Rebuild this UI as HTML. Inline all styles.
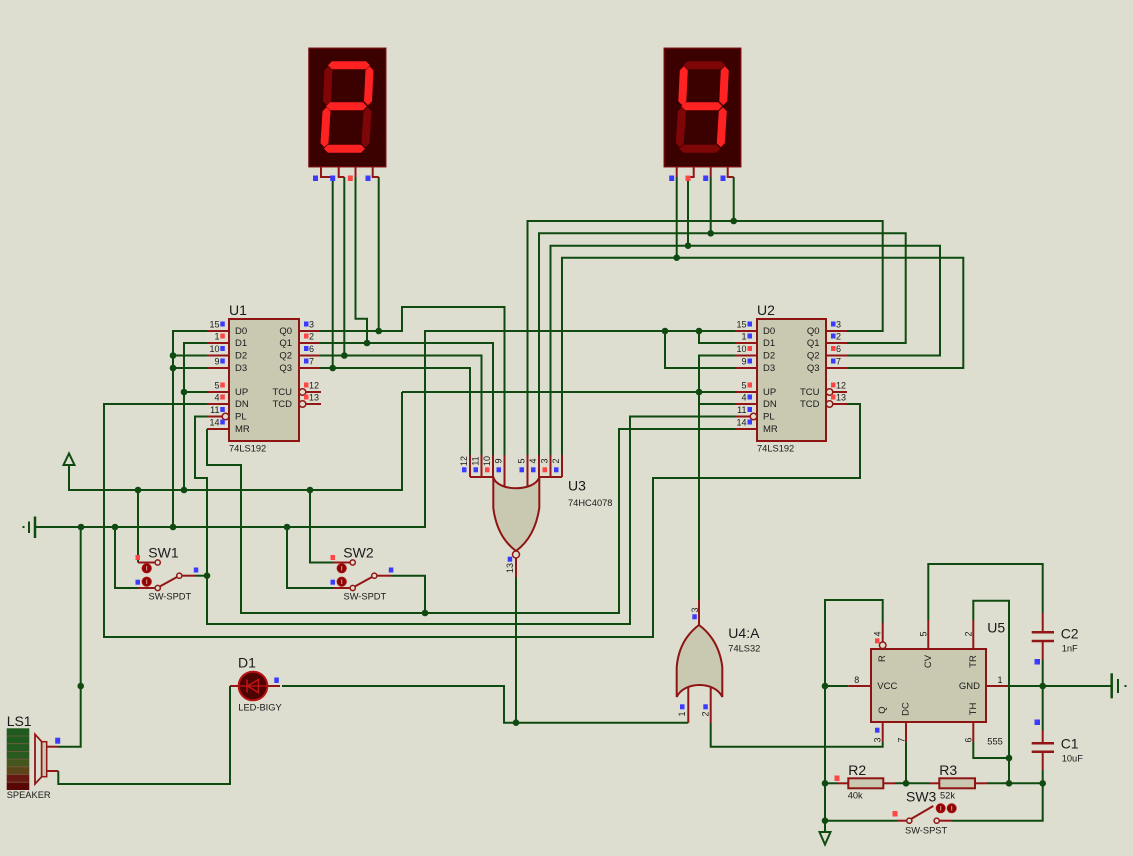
<!DOCTYPE html>
<html><head><meta charset="utf-8"><style>
html,body{margin:0;padding:0;background:#dddecf;}
svg{display:block;}
text{font-family:"Liberation Sans",Arial,sans-serif;fill:#1a1a1a;}
.w{fill:none;stroke:#0f4a10;stroke-width:2;}
.p{fill:none;stroke:#921616;stroke-width:2;}
.b{fill:#c9c8b1;stroke:#8e1414;stroke-width:2;}
.d{fill:#0f4a10;}
.bl{fill:#3b3bff;}
.rd{fill:#ff4545;}
.ref{font-size:14px;}
.typ{font-size:9.3px;}
.pn{font-size:9px;}
.nm{font-size:9.5px;}
.lit{fill:#ff2222;}
.off{fill:#7e0606;}
.oc{fill:#dddecf;stroke:#921616;stroke-width:1.5;}
.fc{fill:#8c0505;stroke:#b01010;stroke-width:1;}
</style></head><body>
<svg width="1133" height="856" viewBox="0 0 1133 856" xmlns="http://www.w3.org/2000/svg">
<rect width="1133" height="856" fill="#dddecf"/>

<!-- ===== WIRES ===== -->
<g>
<polyline class="w" points="332.7,177 332.7,368"/>
<polyline class="w" points="344.3,177 344.3,355.5"/>
<polyline class="w" points="355.5,177 355.5,318.7 367,318.7 367,343"/>
<polyline class="w" points="378.7,177 378.7,331"/>
<polyline class="w" points="676.7,177 676.7,257.7"/>
<polyline class="w" points="688,177 688,245.7"/>
<polyline class="w" points="710.7,177 710.7,233.3"/>
<polyline class="w" points="733.7,177 733.7,221"/>

<polyline class="w" points="527.5,455 527.5,221 882.7,221 882.7,331 847,331"/>
<polyline class="w" points="539,455 539,233.3 905.7,233.3 905.7,343 847,343"/>
<polyline class="w" points="550.5,455 550.5,245.7 940,245.7 940,355.5 847,355.5"/>
<polyline class="w" points="562,455 562,257.7 963.3,257.7 963.3,368 847,368"/>

<polyline class="w" points="320,331 402,331 402,307 504.5,307 504.5,455"/>
<polyline class="w" points="320,343 493,343 493,455"/>
<polyline class="w" points="320,355.5 481.5,355.5 481.5,455"/>
<polyline class="w" points="320,368 470,368 470,455"/>

<polyline class="w" points="35,527 425,527 425,331 735,331"/>
<polyline class="w" points="665,331 665,368 735,368"/>
<polyline class="w" points="699,331 699,343 735,343"/>
<polyline class="w" points="735,355.5 699,355.5 699,600"/>
<polyline class="w" points="699,404 735,404"/>
<polyline class="w" points="402,392 735,392"/>
<polyline class="w" points="69,465 69,490 402,490 402,392"/>

<polyline class="w" points="207,331 173,331 173,527"/>
<polyline class="w" points="173,355.5 207,355.5"/>
<polyline class="w" points="173,368 207,368"/>
<polyline class="w" points="207,343 184,343 184,490"/>
<polyline class="w" points="184,392 207,392"/>
<polyline class="w" points="207,404 104,404 104,637 653,637 653,478 860,478 860,404 847,404"/>
<polyline class="w" points="207,416.5 195,416.5 195,478 207,478 207,624 630,624 630,416.5 735,416.5"/>
<polyline class="w" points="207,429 207,465 241,465 241,613 619,613 619,429 735,429"/>

<!-- SW1 wires -->
<polyline class="w" points="138,490 138,562.5"/>
<polyline class="p" points="138,562.5 155,562.5"/>
<polyline class="w" points="115,527 115,588 138,588"/>
<polyline class="p" points="138,588 155,588"/>
<line class="p" x1="159.8" y1="586.5" x2="177.2" y2="576.9"/>
<polyline class="p" points="182,575.7 196,575.7"/>
<polyline class="w" points="196,575.7 207,575.7"/>
<!-- SW2 wires -->
<polyline class="w" points="310,490 310,562.5 333,562.5"/>
<polyline class="p" points="333,562.5 350,562.5"/>
<polyline class="w" points="287,527 287,588 333,588"/>
<polyline class="p" points="333,588 350,588"/>
<line class="p" x1="354.8" y1="586.5" x2="372.2" y2="576.9"/>
<polyline class="p" points="377,575.7 391,575.7"/>
<polyline class="w" points="391,575.7 425,575.7 425,613"/>

<!-- U3 / U4 / D1 -->
<polyline class="p" points="516,558 516,577"/>
<polyline class="w" points="516,577 516,722.7"/>
<polyline class="w" points="282,686 504,686 504,722.7 688.3,722.7"/>
<polyline class="p" points="688.3,722.7 688.3,687"/>
<polyline class="p" points="710.7,688 710.7,723"/>
<polyline class="w" points="710.7,723 710.7,746.7 882.7,746.7 882.7,742"/>
<polyline class="p" points="882.7,742 882.7,722"/>
<polyline class="p" points="699,600 699,626"/>

<polyline class="p" points="230,686 239,686"/>
<polyline class="w" points="230,686 230,784 58.3,784 58.3,771"/>
<polyline class="p" points="58.3,771 46.7,771"/>
<polyline class="p" points="46.7,746.7 58,746.7"/>
<polyline class="w" points="58,746.7 80.7,746.7 80.7,527"/>
<polyline class="p" points="267,686 280,686"/>

<!-- 555 wires -->
<polyline class="w" points="825,832 825,600 882.7,600 882.7,623"/>
<polyline class="p" points="882.7,623 882.7,641.7"/>
<polyline class="w" points="825,686 848.3,686"/>
<polyline class="p" points="848.3,686 871,686"/>
<polyline class="p" points="928.3,649 928.3,620"/>
<polyline class="w" points="928.3,620 928.3,564 1042.7,564 1042.7,613"/>
<polyline class="p" points="1042.7,613 1042.7,632.3"/>
<polyline class="p" points="1042.7,641 1042.7,660"/>
<polyline class="w" points="1042.7,660 1042.7,730"/>
<polyline class="p" points="1042.7,730 1042.7,743.3"/>
<polyline class="p" points="1042.7,751.7 1042.7,770"/>
<polyline class="w" points="1042.7,770 1042.7,820.7 952,820.7"/>
<polyline class="p" points="952,820.7 939.5,820.7"/>
<polyline class="p" points="986,686 1008,686"/>
<polyline class="w" points="1008,686 1111.7,686"/>
<polyline class="p" points="973.3,649 973.3,620"/>
<polyline class="w" points="973.3,620 973.3,600.7 1009,600.7 1009,783.3"/>
<polyline class="p" points="973.3,722 973.3,742"/>
<polyline class="w" points="973.3,742 973.3,758 1009,758"/>
<polyline class="p" points="906,722 906,742"/>
<polyline class="w" points="906,742 906,783.3"/>
<polyline class="w" points="825,783.3 838,783.3"/>
<polyline class="p" points="838,783.3 848.3,783.3"/>
<polyline class="p" points="883.3,783.3 895,783.3"/>
<polyline class="w" points="895,783.3 929,783.3"/>
<polyline class="p" points="929,783.3 939.3,783.3"/>
<polyline class="p" points="975,783.3 987,783.3"/>
<polyline class="w" points="987,783.3 1042.7,783.3"/>
<polyline class="w" points="825,820.7 897,820.7"/>
<polyline class="p" points="897,820.7 906.6,820.7"/>
<line class="p" x1="911" y1="819" x2="933.3" y2="806"/>

<!-- ground / power symbols -->
<line x1="35" y1="516.5" x2="35" y2="538" stroke="#0f4a10" stroke-width="2.5"/>
<line x1="29" y1="521.5" x2="29" y2="533" stroke="#0f4a10" stroke-width="2"/>
<rect x="22.5" y="526" width="2" height="2" fill="#0f4a10"/>
<line x1="1111.7" y1="673.3" x2="1111.7" y2="698.3" stroke="#0f4a10" stroke-width="2.5"/>
<line x1="1118" y1="679" x2="1118" y2="693" stroke="#0f4a10" stroke-width="2"/>
<rect x="1124.5" y="685" width="2" height="2" fill="#0f4a10"/>
<polygon points="63.5,465 74.5,465 69,453.5" fill="none" stroke="#0f4a10" stroke-width="2"/>
<polygon points="819.5,832 830.5,832 825,844.5" fill="none" stroke="#0f4a10" stroke-width="2"/>
</g>

<!-- ===== JUNCTION DOTS ===== -->
<g class="d">
<circle cx="378.7" cy="331" r="3.3"/><circle cx="367" cy="343" r="3.3"/>
<circle cx="344.3" cy="355.5" r="3.3"/><circle cx="332.7" cy="368" r="3.3"/>
<circle cx="733.7" cy="221" r="3.3"/><circle cx="710.7" cy="233.3" r="3.3"/>
<circle cx="688" cy="245.7" r="3.3"/><circle cx="676.7" cy="257.7" r="3.3"/>
<circle cx="173" cy="355.5" r="3.3"/><circle cx="173" cy="368" r="3.3"/>
<circle cx="173" cy="527" r="3.3"/><circle cx="184" cy="392" r="3.3"/>
<circle cx="184" cy="490" r="3.3"/><circle cx="138" cy="490" r="3.3"/>
<circle cx="310" cy="490" r="3.3"/><circle cx="81" cy="527" r="3.3"/>
<circle cx="115" cy="527" r="3.3"/><circle cx="287" cy="527" r="3.3"/>
<circle cx="665" cy="331" r="3.3"/><circle cx="699" cy="331" r="3.3"/>
<circle cx="699" cy="392" r="3.3"/><circle cx="207" cy="575.7" r="3.3"/>
<circle cx="425" cy="613" r="3.3"/><circle cx="516" cy="722.7" r="3.3"/>
<circle cx="80.7" cy="686" r="3.3"/>
<circle cx="825" cy="686" r="3.3"/><circle cx="825" cy="783.3" r="3.3"/>
<circle cx="825" cy="820.7" r="3.3"/><circle cx="906" cy="783.3" r="3.3"/>
<circle cx="1009" cy="758" r="3.3"/><circle cx="1009" cy="783.3" r="3.3"/>
<circle cx="1042.7" cy="783.3" r="3.3"/><circle cx="1042.7" cy="686" r="3.3"/>
</g>

<!-- ===== 7-SEG DISPLAYS ===== -->
<g transform="translate(309,48.3)">
<rect x="0" y="0" width="76.7" height="118.4" fill="#3b0000" stroke="#6e0808" stroke-width="1.5"/>
<polygon class="lit" points="19,17 23,13 57,13 61,17 57,21 23,21"/>
<polygon class="lit" points="17,58 21,54 54,54 58,58 54,62 21,62"/>
<polygon class="lit" points="15,100.5 19,96.5 52,96.5 56,100.5 52,104.5 19,104.5"/>
<polygon class="off" points="19.5,18 23.5,22 22,53 18,57 14,53 15.5,22"/>
<polygon class="lit" points="60.5,18 64.5,22 63,53 59,57 55,53 56.5,22"/>
<polygon class="lit" points="17.5,59 21.5,63 19.5,95 15.5,99 11.5,95 13.5,63"/>
<polygon class="off" points="58.5,59 62.5,63 60.5,95 56.5,99 52.5,95 54.5,63"/>
</g>
<g transform="translate(664.3,48.3)">
<rect x="0" y="0" width="76.4" height="118.4" fill="#3b0000" stroke="#6e0808" stroke-width="1.5"/>
<polygon class="off" points="19,17 23,13 57,13 61,17 57,21 23,21"/>
<polygon class="lit" points="17,58 21,54 54,54 58,58 54,62 21,62"/>
<polygon class="off" points="15,100.5 19,96.5 52,96.5 56,100.5 52,104.5 19,104.5"/>
<polygon class="lit" points="19.5,18 23.5,22 22,53 18,57 14,53 15.5,22"/>
<polygon class="lit" points="60.5,18 64.5,22 63,53 59,57 55,53 56.5,22"/>
<polygon class="off" points="17.5,59 21.5,63 19.5,95 15.5,99 11.5,95 13.5,63"/>
<polygon class="lit" points="58.5,59 62.5,63 60.5,95 56.5,99 52.5,95 54.5,63"/>
</g>
<path class="p" d="M321,167V177H332.7M338.7,167V177H344.3M355.5,167V177M372.7,167V177H378.7"/>
<path class="p" d="M676.7,167V177M693.7,167V177H688M710.7,167V177M727.7,167V177H733.7"/>
<rect class="bl" x="313" y="175.5" width="5" height="5.5"/>
<rect class="bl" x="330.2" y="175.5" width="5" height="5.5"/>
<rect class="rd" x="347.8" y="175.5" width="5" height="5.5"/>
<rect class="bl" x="365.5" y="175.5" width="5" height="5.5"/>
<rect class="bl" x="669.2" y="175.5" width="5" height="5.5"/>
<rect class="rd" x="685.5" y="175.5" width="5" height="5.5"/>
<rect class="bl" x="703.2" y="175.5" width="5" height="5.5"/>
<rect class="bl" x="720.5" y="175.5" width="5" height="5.5"/>

<!-- ===== U1 ===== -->
<g>
<path class="p" d="M207,331H229M207,343H229M207,355.5H229M207,368H229M207,392H229M207,404H229M207,416.5H222M207,429H229"/>
<path class="p" d="M299,331H320M299,343H320M299,355.5H320M299,368H320M306,392H321M306,404H321"/>
<rect class="b" x="229" y="319" width="70" height="122"/>
<circle class="oc" cx="225.5" cy="416.5" r="3.3" stroke-width="2"/>
<circle class="oc" cx="302.5" cy="392" r="3.3" stroke-width="2"/>
<circle class="oc" cx="302.5" cy="404" r="3.3" stroke-width="2"/>
<text class="ref" x="229" y="310" dominant-baseline="central">U1</text>
<text class="typ" x="229" y="448.5" dominant-baseline="central">74LS192</text>
<g class="nm" dominant-baseline="central">
<text x="235" y="331.5">D0</text><text x="235" y="343.5">D1</text><text x="235" y="356">D2</text><text x="235" y="368.5">D3</text>
<text x="235" y="392.5">UP</text><text x="235" y="404.5">DN</text><text x="235" y="417">PL</text><text x="235" y="429.5">MR</text>
<text x="292" y="331.5" text-anchor="end">Q0</text><text x="292" y="343.5" text-anchor="end">Q1</text>
<text x="292" y="356" text-anchor="end">Q2</text><text x="292" y="368.5" text-anchor="end">Q3</text>
<text x="292" y="392.5" text-anchor="end">TCU</text><text x="292" y="404.5" text-anchor="end">TCD</text>
</g>
<g class="pn" dominant-baseline="central" text-anchor="end">
<text x="219.5" y="324.5">15</text><text x="219.5" y="336.5">1</text><text x="219.5" y="349">10</text><text x="219.5" y="361.5">9</text>
<text x="219.5" y="385.5">5</text><text x="219.5" y="397.5">4</text><text x="219.5" y="410">11</text><text x="219.5" y="422.5">14</text>
</g>
<g class="pn" dominant-baseline="central">
<text x="309" y="324.5">3</text><text x="309" y="336.5">2</text><text x="309" y="349">6</text><text x="309" y="361.5">7</text>
<text x="309" y="385.5">12</text><text x="309" y="397.5">13</text>
</g>
<rect class="bl" x="220.3" y="321.5" width="4.5" height="5"/><rect class="rd" x="220.3" y="333.5" width="4.5" height="5"/>
<rect class="bl" x="220.3" y="346" width="4.5" height="5"/><rect class="bl" x="220.3" y="358.5" width="4.5" height="5"/>
<rect class="rd" x="220.3" y="382.5" width="4.5" height="5"/><rect class="rd" x="220.3" y="394.5" width="4.5" height="5"/>
<rect class="bl" x="220.3" y="407" width="4.5" height="5"/><rect class="bl" x="220.3" y="419.5" width="4.5" height="5"/>
<rect class="bl" x="304" y="321.5" width="4.5" height="5"/><rect class="rd" x="304" y="333.5" width="4.5" height="5"/>
<rect class="bl" x="304" y="346" width="4.5" height="5"/><rect class="bl" x="304" y="358.5" width="4.5" height="5"/>
<rect class="rd" x="304" y="382.5" width="4.5" height="5"/><rect class="rd" x="304" y="394.5" width="4.5" height="5"/>
</g>

<!-- ===== U2 ===== -->
<g>
<path class="p" d="M735,331H757M735,343H757M735,355.5H757M735,368H757M735,392H757M735,404H757M735,416.5H750M735,429H757"/>
<path class="p" d="M826,331H847M826,343H847M826,355.5H847M826,368H847M833,392H847M833,404H847"/>
<rect class="b" x="757" y="319" width="69" height="122"/>
<circle class="oc" cx="753.5" cy="416.5" r="3.3" stroke-width="2"/>
<circle class="oc" cx="829.5" cy="392" r="3.3" stroke-width="2"/>
<circle class="oc" cx="829.5" cy="404" r="3.3" stroke-width="2"/>
<text class="ref" x="757" y="310" dominant-baseline="central">U2</text>
<text class="typ" x="757" y="448.5" dominant-baseline="central">74LS192</text>
<g class="nm" dominant-baseline="central">
<text x="763" y="331.5">D0</text><text x="763" y="343.5">D1</text><text x="763" y="356">D2</text><text x="763" y="368.5">D3</text>
<text x="763" y="392.5">UP</text><text x="763" y="404.5">DN</text><text x="763" y="417">PL</text><text x="763" y="429.5">MR</text>
<text x="819.5" y="331.5" text-anchor="end">Q0</text><text x="819.5" y="343.5" text-anchor="end">Q1</text>
<text x="819.5" y="356" text-anchor="end">Q2</text><text x="819.5" y="368.5" text-anchor="end">Q3</text>
<text x="819.5" y="392.5" text-anchor="end">TCU</text><text x="819.5" y="404.5" text-anchor="end">TCD</text>
</g>
<g class="pn" dominant-baseline="central" text-anchor="end">
<text x="746.5" y="324.5">15</text><text x="746.5" y="336.5">1</text><text x="746.5" y="349">10</text><text x="746.5" y="361.5">9</text>
<text x="746.5" y="385.5">5</text><text x="746.5" y="397.5">4</text><text x="746.5" y="410">11</text><text x="746.5" y="422.5">14</text>
</g>
<g class="pn" dominant-baseline="central">
<text x="836" y="324.5">3</text><text x="836" y="336.5">2</text><text x="836" y="349">6</text><text x="836" y="361.5">7</text>
<text x="836" y="385.5">12</text><text x="836" y="397.5">13</text>
</g>
<rect class="bl" x="747.5" y="321.5" width="4.5" height="5"/><rect class="bl" x="747.5" y="333.5" width="4.5" height="5"/>
<rect class="rd" x="747.5" y="346" width="4.5" height="5"/><rect class="bl" x="747.5" y="358.5" width="4.5" height="5"/>
<rect class="rd" x="747.5" y="382.5" width="4.5" height="5"/><rect class="bl" x="747.5" y="394.5" width="4.5" height="5"/>
<rect class="bl" x="747.5" y="407" width="4.5" height="5"/><rect class="bl" x="747.5" y="419.5" width="4.5" height="5"/>
<rect class="bl" x="831" y="321.5" width="4.5" height="5"/><rect class="bl" x="831" y="333.5" width="4.5" height="5"/>
<rect class="rd" x="831" y="346" width="4.5" height="5"/><rect class="bl" x="831" y="358.5" width="4.5" height="5"/>
<rect class="rd" x="831" y="382.5" width="4.5" height="5"/><rect class="rd" x="831" y="394.5" width="4.5" height="5"/>
</g>

<!-- ===== U3 (8-input NOR) ===== -->
<g>
<path class="p" d="M470,455V477M481.5,455V477M493,455V477M504.5,455V487M527.5,455V487M539,455V477M550.5,455V477M562,455V477M470,477H494M538.5,477H562"/>
<path class="b" d="M493.3,477 L493.3,508 Q497,537 516,551 Q535,537 539.3,508 L539.3,477 C535,492 497,492 493.3,477 Z"/>
<circle class="oc" cx="516" cy="554.5" r="3.5" stroke-width="2"/>
<g class="pn" text-anchor="middle" dominant-baseline="central">
<text transform="translate(464,461) rotate(-90)">12</text>
<text transform="translate(475.5,461) rotate(-90)">11</text>
<text transform="translate(487,461) rotate(-90)">10</text>
<text transform="translate(498.5,461) rotate(-90)">9</text>
<text transform="translate(521.5,461) rotate(-90)">5</text>
<text transform="translate(533,461) rotate(-90)">4</text>
<text transform="translate(544.5,461) rotate(-90)">3</text>
<text transform="translate(556,461) rotate(-90)">2</text>
<text transform="translate(510,568) rotate(-90)">13</text>
</g>
<rect class="bl" x="462" y="467.3" width="4.5" height="5"/><rect class="bl" x="473.5" y="467.3" width="4.5" height="5"/>
<rect class="rd" x="485" y="467.3" width="4.5" height="5"/><rect class="bl" x="496.5" y="467.3" width="4.5" height="5"/>
<rect class="bl" x="519.5" y="467.3" width="4.5" height="5"/><rect class="bl" x="531" y="467.3" width="4.5" height="5"/>
<rect class="rd" x="542.5" y="467.3" width="4.5" height="5"/><rect class="bl" x="554" y="467.3" width="4.5" height="5"/>
<rect class="bl" x="507.7" y="556.7" width="4.5" height="5"/>
<text class="ref" x="568" y="485.7" dominant-baseline="central">U3</text>
<text class="typ" x="568" y="503" dominant-baseline="central">74HC4078</text>
</g>

<!-- ===== U4:A (OR) ===== -->
<g>
<path class="b" d="M699,625 Q679,640 676.7,667 L676.7,697 C684,681 715,681 722.3,697 L722.3,667 Q719,640 699,625 Z"/>
<rect class="bl" x="692.3" y="614.3" width="4.5" height="5"/>
<rect class="bl" x="680" y="704.3" width="4.5" height="5"/>
<rect class="bl" x="703.3" y="704.3" width="4.5" height="5"/>
<g class="pn" text-anchor="middle" dominant-baseline="central">
<text transform="translate(695,610) rotate(-90)">3</text>
<text transform="translate(682,714) rotate(-90)">1</text>
<text transform="translate(705.5,714) rotate(-90)">2</text>
</g>
<text class="ref" x="728.3" y="633" dominant-baseline="central">U4:A</text>
<text class="typ" x="728.3" y="648.5" dominant-baseline="central">74LS32</text>
</g>

<!-- ===== SW1 / SW2 ===== -->
<g>
<circle class="oc" cx="157.7" cy="562.5" r="2.6"/>
<circle class="oc" cx="157.7" cy="588" r="2.6"/>
<circle class="oc" cx="179.3" cy="575.7" r="2.6"/>
<circle class="fc" cx="146.7" cy="568.3" r="4.6"/>
<circle class="fc" cx="146.7" cy="581.7" r="4.6"/>
<line x1="146.7" y1="566" x2="146.7" y2="570.5" stroke="#e8a0a0" stroke-width="1"/>
<line x1="146.7" y1="579.5" x2="146.7" y2="584" stroke="#e8a0a0" stroke-width="1"/>
<rect class="rd" x="135.5" y="555" width="4.5" height="5"/>
<rect class="bl" x="135.5" y="579.7" width="4.5" height="5"/>
<rect class="bl" x="193.8" y="567.5" width="4.5" height="5"/>
<text class="ref" x="148.3" y="552.3" dominant-baseline="central">SW1</text>
<text class="typ" x="148.5" y="596.7" dominant-baseline="central">SW-SPDT</text>

<circle class="oc" cx="352.7" cy="562.5" r="2.6"/>
<circle class="oc" cx="352.7" cy="588" r="2.6"/>
<circle class="oc" cx="374.3" cy="575.7" r="2.6"/>
<circle class="fc" cx="341.7" cy="568.3" r="4.6"/>
<circle class="fc" cx="341.7" cy="581.7" r="4.6"/>
<line x1="341.7" y1="566" x2="341.7" y2="570.5" stroke="#e8a0a0" stroke-width="1"/>
<line x1="341.7" y1="579.5" x2="341.7" y2="584" stroke="#e8a0a0" stroke-width="1"/>
<rect class="rd" x="330.5" y="555" width="4.5" height="5"/>
<rect class="bl" x="330.5" y="579.7" width="4.5" height="5"/>
<rect class="bl" x="388.8" y="567.5" width="4.5" height="5"/>
<text class="ref" x="343.3" y="552.3" dominant-baseline="central">SW2</text>
<text class="typ" x="343.5" y="596.7" dominant-baseline="central">SW-SPDT</text>
</g>

<!-- ===== D1 LED ===== -->
<g>
<circle cx="253" cy="686" r="14.3" fill="#4e0303" stroke="#b81010" stroke-width="2"/>
<line x1="239" y1="686" x2="267" y2="686" stroke="#b81010" stroke-width="1.5"/>
<polygon points="247.5,686 258.5,679.5 258.5,692.5" fill="none" stroke="#c01515" stroke-width="1.5"/>
<line x1="247" y1="679.5" x2="247" y2="692.5" stroke="#c01515" stroke-width="1.5"/>
<rect class="bl" x="274.3" y="677.5" width="4.5" height="5.5"/>
<text class="ref" x="238" y="662.7" dominant-baseline="central">D1</text>
<text class="typ" x="238.3" y="707.5" dominant-baseline="central">LED-BIGY</text>
</g>

<!-- ===== LS1 SPEAKER ===== -->
<g>
<rect x="6.7" y="728.3" width="22.6" height="7.7" fill="#1f5a1f"/>
<rect x="6.7" y="736" width="22.6" height="7.7" fill="#1f5a1f"/>
<rect x="6.7" y="743.7" width="22.6" height="7.7" fill="#235a20"/>
<rect x="6.7" y="751.4" width="22.6" height="7.7" fill="#2a5a1f"/>
<rect x="6.7" y="759.1" width="22.6" height="7.7" fill="#44561c"/>
<rect x="6.7" y="766.8" width="22.6" height="7.7" fill="#5a4418"/>
<rect x="6.7" y="774.5" width="22.6" height="7.7" fill="#661810"/>
<rect x="6.7" y="782.2" width="22.6" height="7.8" fill="#580606"/>
<path d="M6.7,736H29.3M6.7,743.7H29.3M6.7,751.4H29.3M6.7,759.1H29.3M6.7,766.8H29.3M6.7,774.5H29.3M6.7,782.2H29.3" stroke="#7a5a40" stroke-width="0.8"/>
<polygon points="35,734.3 41.7,741.7 41.7,776.7 35,784" fill="#dddecf" stroke="#921616" stroke-width="1.8"/>
<rect x="41.7" y="741.7" width="5" height="35" fill="#c9c8b1" stroke="#921616" stroke-width="1.5"/>
<rect class="bl" x="55.2" y="737.7" width="5" height="6"/>
<text class="ref" x="6.7" y="721" dominant-baseline="central">LS1</text>
<text class="typ" x="6.7" y="795" dominant-baseline="central">SPEAKER</text>
</g>

<!-- ===== U5 555 ===== -->
<g>
<circle class="oc" cx="882.7" cy="645.3" r="3.3" stroke-width="2"/>
<rect class="b" x="871" y="649" width="115" height="73"/>
<g class="nm" text-anchor="middle" dominant-baseline="central">
<text transform="translate(882.7,658.5) rotate(-90)">R</text>
<text transform="translate(928.3,661.5) rotate(-90)">CV</text>
<text transform="translate(973.3,661.5) rotate(-90)">TR</text>
<text transform="translate(882.7,710) rotate(-90)">Q</text>
<text transform="translate(906,709) rotate(-90)">DC</text>
<text transform="translate(973.3,709) rotate(-90)">TH</text>
</g>
<text class="nm" x="877.3" y="686.7" dominant-baseline="central">VCC</text>
<text class="nm" x="980" y="686.7" text-anchor="end" dominant-baseline="central">GND</text>
<g class="pn" text-anchor="middle" dominant-baseline="central">
<text transform="translate(877.5,634) rotate(-90)">4</text>
<text transform="translate(923.5,634) rotate(-90)">5</text>
<text transform="translate(968.5,634) rotate(-90)">2</text>
<text transform="translate(877.5,740) rotate(-90)">3</text>
<text transform="translate(901.5,740) rotate(-90)">7</text>
<text transform="translate(968.5,740) rotate(-90)">6</text>
<text x="856.7" y="680">8</text>
<text x="1000" y="680">1</text>
</g>
<rect class="rd" x="875" y="638.3" width="4.5" height="5"/>
<rect class="bl" x="875" y="727.7" width="4.5" height="5"/>
<text class="ref" x="987.3" y="627.7" dominant-baseline="central">U5</text>
<text class="typ" x="987.3" y="741.7" dominant-baseline="central">555</text>

<!-- C2 / C1 -->
<path d="M1031.7,632.3H1054M1031.7,641H1054M1031.7,743.3H1054M1031.7,751.7H1054" stroke="#921616" stroke-width="2.5"/>
<rect class="bl" x="1034.5" y="659" width="5.5" height="5.5"/>
<rect class="bl" x="1034.5" y="719.5" width="5.5" height="5.5"/>
<text class="ref" x="1060.7" y="633.3" dominant-baseline="central">C2</text>
<text class="typ" x="1061.7" y="648.3" dominant-baseline="central">1nF</text>
<text class="ref" x="1060.7" y="743.3" dominant-baseline="central">C1</text>
<text class="typ" x="1061.7" y="758.3" dominant-baseline="central">10uF</text>

<!-- R2 / R3 -->
<rect class="b" x="848.3" y="778.3" width="35" height="10" stroke-width="1.8"/>
<rect class="b" x="939.3" y="778.3" width="35.7" height="10" stroke-width="1.8"/>
<rect class="rd" x="834.5" y="775.5" width="5" height="5.5"/>
<text class="ref" x="848.3" y="770" dominant-baseline="central">R2</text>
<text class="typ" x="847.7" y="795.3" dominant-baseline="central">40k</text>
<text class="ref" x="939.3" y="770" dominant-baseline="central">R3</text>
<text class="typ" x="940" y="795.3" dominant-baseline="central">52k</text>

<!-- SW3 -->
<circle class="oc" cx="909.3" cy="820.7" r="2.6"/>
<circle class="oc" cx="936.7" cy="820.7" r="2.6"/>
<circle class="fc" cx="940.7" cy="808.3" r="4.5"/>
<circle class="fc" cx="951.7" cy="808.3" r="4.5"/>
<line x1="940.7" y1="806" x2="940.7" y2="810.5" stroke="#e8a0a0" stroke-width="1"/>
<line x1="951.7" y1="806" x2="951.7" y2="810.5" stroke="#e8a0a0" stroke-width="1"/>
<rect class="rd" x="892.5" y="811" width="5" height="5.5"/>
<text class="ref" x="906" y="796.7" dominant-baseline="central">SW3</text>
<text class="typ" x="905" y="830.3" dominant-baseline="central">SW-SPST</text>
</g>

</svg>
</body></html>
